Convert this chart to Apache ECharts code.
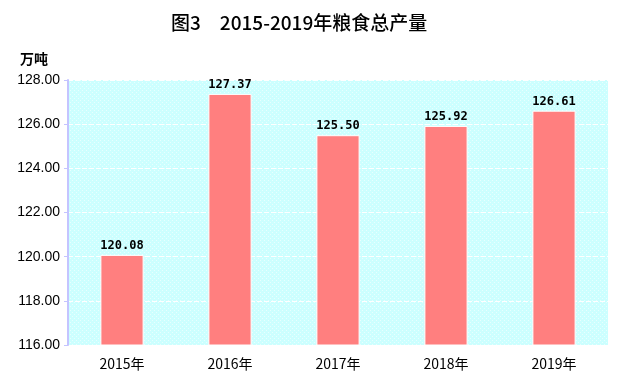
<!DOCTYPE html>
<html><head><meta charset="utf-8">
<script src="https://cdn.jsdelivr.net/npm/echarts@6/dist/echarts.min.js"></script>
<style>html,body{margin:0;padding:0;background:#fff}#c{width:621px;height:392px}</style>
</head><body><div id="c"></div>
<script>
const categories = ['2015年','2016年','2017年','2018年','2019年'];
const values = [120.08, 127.37, 125.50, 125.92, 126.61];
const yTicks = [116, 118, 120, 122, 124, 126, 128];

const pc = document.createElement('canvas');
pc.width = 4; pc.height = 4;
const g = pc.getContext('2d');
g.fillStyle = '#ccffff'; g.fillRect(0,0,4,4);
g.fillStyle = '#e8ffff'; g.fillRect(0,0,1,1); g.fillRect(2,2,1,1);

const chart = echarts.init(document.getElementById('c'));
chart.setOption({
  animation: false,
  title: {
    text: '图3　2015-2019年粮食总产量',
    left: 166, top: 8,
    textStyle: {fontSize: 19, fontWeight: 500, color: '#000', fontFamily: 'Noto Sans CJK SC'}
  },
  grid: {left: 68, right: 13, top: 80, bottom: 47, show: true, backgroundColor: {image: pc, repeat: 'repeat'}, borderWidth: 0},
  xAxis: {
    type: 'category', data: categories,
    axisLine: {show: false}, axisTick: {show: false},
    axisLabel: {color: '#000', fontSize: 14, margin: 12, fontFamily: 'Noto Sans CJK SC'}
  },
  yAxis: {
    type: 'value', min: yTicks[0], max: yTicks[yTicks.length-1], interval: 2,
    name: '万吨', nameLocation: 'end', nameGap: 14,
    nameTextStyle: {fontSize: 14, fontWeight: 'bold', color: '#000', align: 'right', padding: [0, 20, 0, 0], fontFamily: 'Noto Sans CJK SC'},
    axisLine: {show: true, lineStyle: {color: '#c4c4ff', width: 2}},
    axisTick: {show: true, length: 4, lineStyle: {color: '#c4c4ff'}},
    axisLabel: {color: '#000', fontSize: 14, margin: 8, fontFamily: 'Liberation Sans', formatter: v => v.toFixed(2)},
    splitLine: {show: true, lineStyle: {color: '#ffffff', type: [5, 2], width: 1}}
  },
  series: [{
    type: 'bar', data: values, barWidth: '40%',
    itemStyle: {color: '#ff7f7f', borderColor: '#ffffff', borderWidth: 1},
    label: {show: true, position: 'top', distance: 3, color: '#000', fontSize: 12, fontWeight: 'bold',
      fontFamily: 'DejaVu Sans Mono', formatter: p => p.value.toFixed(2)}
  }]
});
</script></body></html>
